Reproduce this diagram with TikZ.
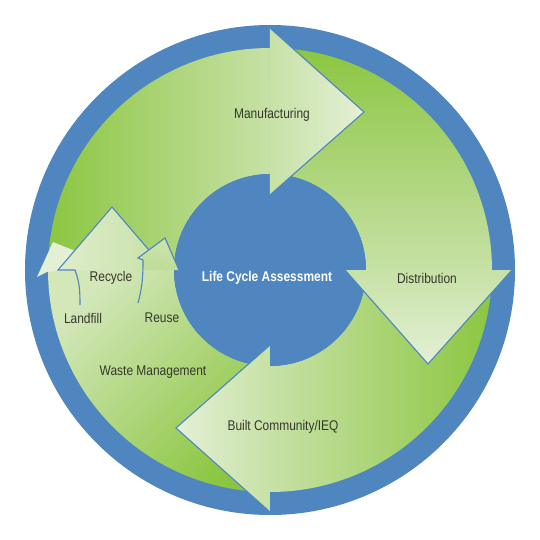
\documentclass[tikz,border=0pt]{standalone}
\usepackage{fontspec}
\setmainfont{Liberation Sans}[FakeStretch=0.85]
\definecolor{ringblue}{RGB}{79,134,192}
\definecolor{leafgreen}{RGB}{140,198,65}
\definecolor{palegreen}{RGB}{199,225,166}
\definecolor{tipgreen}{RGB}{228,240,214}
\definecolor{labelgray}{RGB}{55,55,45}
\begin{document}
\begin{tikzpicture}[x=0.025cm,y=0.025cm,head_edge/.style={draw=ringblue,line width=0.8pt,line join=miter},stage_label/.style={text=labelgray,font=\fontsize{10}{12}\selectfont,inner sep=0pt}]

		\useasboundingbox (-270,-270) rectangle (270,270);
		\fill[white] (-270,-270) rectangle (270,270);
		\fill[ringblue] (0,0) circle[radius=245];

		% arrow bodies
		\shade[left color=leafgreen,right color=palegreen] (180:222) arc[start angle=180,end angle=90,radius=222] -- (90:96) arc[start angle=90,end angle=180,radius=96] -- cycle;
		\shade[top color=leafgreen,bottom color=palegreen] (90:222) arc[start angle=90,end angle=0,radius=222] -- (0:96) arc[start angle=0,end angle=90,radius=96] -- cycle;
		\shade[right color=leafgreen,left color=palegreen] (0:222) arc[start angle=0,end angle=-90,radius=222] -- (-90:96) arc[start angle=-90,end angle=0,radius=96] -- cycle;
		\shade[top color=palegreen!60!tipgreen,bottom color=leafgreen,shading angle=45] (-90:222) arc[start angle=-90,end angle=-180,radius=222] -- (180:96) arc[start angle=180,end angle=270,radius=96] -- cycle;

		\fill[ringblue] (0,0) circle[radius=96];

		% arrow heads
		\shade[left color=palegreen,right color=tipgreen] (0,242) -- (94,158) -- (0,75) -- cycle;
		\draw[head_edge] (0,242) -- (94,158) -- (0,75);
		\shade[top color=palegreen,bottom color=tipgreen] (242,0) -- (158,-94) -- (75,0) -- cycle;
		\draw[head_edge] (242,0) -- (158,-94) -- (75,0);
		\shade[right color=palegreen,left color=tipgreen] (0,-242) -- (-94,-158) -- (0,-75) -- cycle;
		\draw[head_edge] (0,-242) -- (-94,-158) -- (0,-75);

		% landfill, recycle, reuse
		\fill[tipgreen] (-233,-7) -- (-217,28) -- (-175,11) -- (-200,0) -- (-223,-2) -- cycle;
		\shade[left color=tipgreen!80!palegreen,right color=palegreen] (-212,0) -- (-158,63) -- (-104,0) -- cycle;
		\draw[head_edge] (-190,-35) to[out=90,in=-70] (-195,0) -- (-212,0) -- (-158,63) -- (-104,0);
		\shade[top color=palegreen!80!tipgreen,bottom color=palegreen!85!leafgreen] (-127,10) -- (-132,12) -- (-105,32) -- (-91,0) -- (-128,0) -- cycle;
		\draw[head_edge] (-132,-33) to[out=75,in=-90] (-127,10) -- (-132,12) -- (-105,32) -- (-91,0);

		\node[stage_label] (manufacturing) at (2,155) {Manufacturing};
		\node[stage_label] (distribution) at (157,-8) {Distribution};
		\node[stage_label] (built) at (13,-157) {Built Community/IEQ};
		\node[stage_label] (waste) at (-117,-102) {Waste Management};
		\node[stage_label] (recycle) at (-159,-8) {Recycle};
		\node[stage_label] (landfill) at (-187,-48) {Landfill};
		\node[stage_label] (reuse) at (-108,-48) {Reuse};
		\node[stage_label,text=white,font=\fontsize{10}{12}\selectfont\bfseries] (lca) at (-3,-8) {Life Cycle Assessment};
		\end{tikzpicture}
\end{document}
